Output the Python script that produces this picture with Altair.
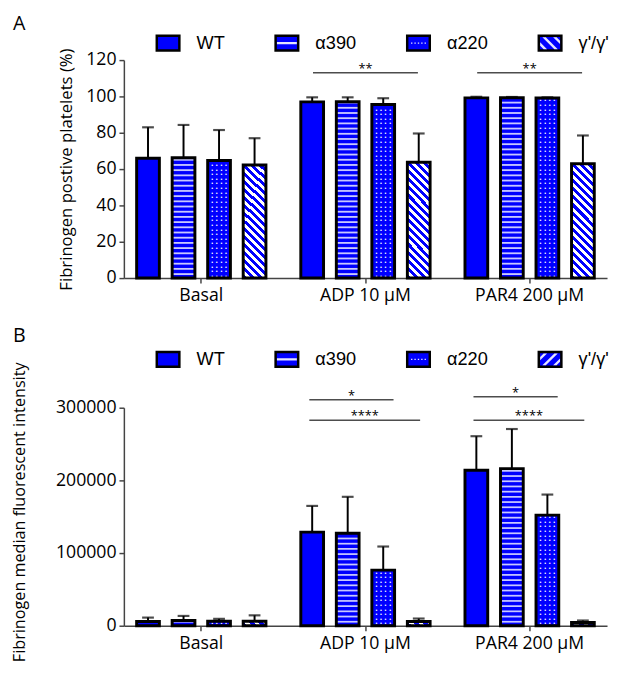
import altair as alt
import pandas as pd

# ---------------- data ----------------
groups = ["Basal", "ADP 10 μM", "PAR4 200 μM"]
series = ["WT", "α390", "α220", "γ'/γ'"]

# Panel A: fibrinogen positive platelets (%)  mean / SD
a_wt = [66.0, 97.0, 99.2]
a_wt_sd = [17.0, 2.5, 0.6]
a_a390 = [66.2, 97.1, 99.3]
a_a390_sd = [18.1, 2.4, 0.4]
a_a220 = [64.7, 95.5, 99.1]
a_a220_sd = [16.8, 3.5, 0.4]
a_gg = [62.3, 63.8, 62.9]
a_gg_sd = [14.7, 15.8, 15.6]

# Panel B: fibrinogen median fluorescent intensity  mean / SD
b_wt = [5800, 128800, 213900]
b_wt_sd = [5400, 36100, 46900]
b_a390 = [7200, 127400, 216200]
b_a390_sd = [6300, 50000, 54500]
b_a220 = [6300, 76500, 152200]
b_a220_sd = [3200, 32500, 28300]
b_gg = [6300, 5800, 4500]
b_gg_sd = [8000, 4100, 2700]

# significance annotations
a_sig_groups = ["ADP 10 μM", "PAR4 200 μM"]
a_sig_y = [113, 113]
a_sig_label = ["**", "**"]

b_sig1_groups = ["ADP 10 μM", "PAR4 200 μM"]
b_sig1_y = [311000, 315000]
b_sig1_label = ["*", "*"]
b_sig2_groups = ["ADP 10 μM", "PAR4 200 μM"]
b_sig2_y = [282800, 282800]
b_sig2_label = ["****", "****"]

a_ticks = [0, 20, 40, 60, 80, 100, 120]
b_ticks = [0, 100000, 200000, 300000]

# ---------------- style ----------------
BLUE = "#0000ff"
STRIPE = "#c8c8ff"
LEG_STRIPE = "#e4e4ff"
FONT = "Open Sans"
AX = "#444444"
pat_domain = [s + "\u200b" for s in series]


def make_df(cols):
    rows = []
    for s, p, (means, sds) in zip(series, pat_domain, cols):
        for g, m, sd in zip(groups, means, sds):
            rows.append({"group": g, "series": s, "pat": p, "mean": m, "top": m + sd})
    return pd.DataFrame(rows)


def gradient(x1, y1, x2, y2, stops):
    return {"gradient": "linear", "x1": round(x1, 5), "y1": round(y1, 5),
            "x2": round(x2, 5), "y2": round(y2, 5),
            "stops": [{"offset": round(o, 5), "color": c} for o, c in stops]}


def stripe_stops(n, base, band, duty):
    st = []
    for i in range(n):
        a = i / n
        b = (i + duty) / n
        c = (i + 1) / n
        st += [(a, base), (b, base), (b, band), (c, band)]
    return st


def diag(k, n, slash, duty=0.5):
    s = (1 + k) / (1 + k * k)
    if slash:
        return gradient(0, 0, s, k * s, stripe_stops(n, BLUE, "white", duty))
    return gradient(0, 1, s, 1 - k * s, stripe_stops(n, BLUE, "white", duty))


# ---- legend pattern glyphs (symbol shapes in unit coordinates) ----
IX, IY = 0.88, 0.53  # inner area of the legend swatch
FRAME = "M-1,-0.65L-1,-0.65ZM1,0.65L1,0.65Z"  # zero-area points: same bounds as the swatch


def rect_path(x0, y0, x1, y1):
    return f"M{x0:.3f},{y0:.3f}H{x1:.3f}V{y1:.3f}H{x0:.3f}Z"


def clip_half(poly, a, b, c):
    # keep a*x + b*y >= c
    out = []
    n = len(poly)
    for i in range(n):
        p, q = poly[i], poly[(i + 1) % n]
        fp = a * p[0] + b * p[1] - c
        fq = a * q[0] + b * q[1] - c
        if fp >= 0:
            out.append(p)
        if (fp >= 0) != (fq >= 0):
            t = fp / (fp - fq)
            out.append((p[0] + t * (q[0] - p[0]), p[1] + t * (q[1] - p[1])))
    return out


def diag_glyph(slash):
    sy = 1 if slash else -1  # "/" : x + y = c, "\" : x - y = c
    parts = [FRAME]
    for cc in (-0.95, 0.0, 0.95):
        poly = [(-IX, -IY), (IX, -IY), (IX, IY), (-IX, IY)]
        poly = clip_half(poly, 1, sy, cc - 0.15)
        poly = clip_half(poly, -1, -sy, -(cc + 0.15))
        if len(poly) >= 3:
            parts.append("M" + "L".join(f"{x:.3f},{y:.3f}" for x, y in poly) + "Z")
    return "".join(parts)


glyph_wt = FRAME
glyph_390 = FRAME + rect_path(-IX, -0.1, IX, 0.1)
glyph_220 = FRAME + "".join(rect_path(x - 0.06, -0.06, x + 0.06, 0.06) for x in (-0.6, -0.3, 0.0, 0.3, 0.6))


def panel(df, letter, ymax, yticks, ytitle, title_pad, title_size, title_y, legend_y, title_offset,
          k_bar, n_bar, slash_legend, stripe_step, stripe_h, dot_step, sigs):
    xscale = alt.Scale(domain=groups, paddingInner=0.1, paddingOuter=0.0215)
    xaxis = alt.Axis(title=None, labelAngle=0, labelFont=FONT, labelFontSize=18,
                     labelColor="black", labelPadding=4, tickSize=5, tickWidth=1.5,
                     tickColor=AX, domainColor=AX, domainWidth=1.5)

    def X(**kw):
        return alt.X("group:N", sort=groups, scale=xscale, axis=xaxis, **kw)

    xo = alt.XOffset("series:N", sort=series,
                     scale=alt.Scale(domain=series, paddingInner=0.36, paddingOuter=0.26))
    yscale = alt.Scale(domain=[0, ymax], nice=False)
    ax_kw = dict(values=yticks, format="d", grid=False, title=ytitle,
                 titleFont=FONT, titleFontSize=title_size, titleFontWeight="normal",
                 titleColor="black", titlePadding=title_pad,
                 labelFont=FONT, labelFontSize=18, labelColor="black", labelPadding=3,
                 tickSize=5, tickWidth=1.5, tickColor=AX, domainColor=AX, domainWidth=1.5)
    if title_y is not None:
        ax_kw["titleY"] = title_y
    yaxis = alt.Axis(**ax_kw)

    def Y(f):
        return alt.Y(f, scale=yscale, axis=yaxis)

    common_leg = dict(orient="none", legendX=32, legendY=legend_y, direction="horizontal",
                      title=None, symbolSize=529, symbolOpacity=1, symbolStrokeWidth=2.5,
                      labelFont="Liberation Sans", labelFontSize=18.5, labelOffset=16,
                      columnPadding=46, padding=0)
    legend = alt.Legend(symbolType="M-1,-0.65H1V0.65H-1Z", symbolStrokeColor="black",
                        labelColor="black", zindex=1, **common_leg)
    legend_pat = alt.Legend(symbolStrokeColor="transparent", symbolFillColor=LEG_STRIPE,
                            labelOpacity=0, zindex=3, **common_leg)
    glyphs = [glyph_wt, glyph_390, glyph_220, diag_glyph(slash_legend)]

    base = alt.Chart(df)
    layers = []
    layers.append(base.mark_bar(strokeWidth=0).encode(
        x=X(), xOffset=xo, y=Y("mean:Q"),
        color=alt.Color("series:N", sort=series,
                        scale=alt.Scale(domain=series, range=[BLUE] * 4), legend=legend)))
    # diagonal-striped bars
    layers.append(base.transform_filter(alt.datum.series == "γ'/γ'").mark_bar(
        strokeWidth=0, color=diag(k_bar, n_bar, False)).encode(x=X(), xOffset=xo, y=Y("mean:Q")))
    # horizontal stripes
    layers.append(
        base.transform_filter(alt.datum.series == "α390")
        .transform_calculate(s=f"sequence({stripe_step * 0.6}, datum.mean - {stripe_step * 0.2}, {stripe_step})")
        .transform_flatten(["s"])
        .transform_calculate(s2=f"datum.s + {stripe_h}")
        .mark_bar(color=STRIPE, strokeWidth=0)
        .encode(x=X(), xOffset=xo, y=Y("s:Q"), y2="s2:Q"))
    # dots
    for dx in [-7, -2.33, 2.33, 7]:
        layers.append(
            base.transform_filter(alt.datum.series == "α220")
            .transform_calculate(d=f"sequence({dot_step * 0.5}, datum.mean - {dot_step * 0.2}, {dot_step})")
            .transform_flatten(["d"])
            .mark_text(text="•", font="DejaVu Sans", fontSize=5, color="white",
                       baseline="middle", align="center", dx=dx)
            .encode(x=X(), xOffset=xo, y=Y("d:Q")))
    # error bars
    layers.append(base.mark_rule(color="black", strokeWidth=2).encode(
        x=X(), xOffset=xo, y=Y("mean:Q"), y2="top:Q"))
    layers.append(base.mark_tick(color="black", thickness=2.2, size=12, orient="horizontal").encode(
        x=X(), xOffset=xo, y=Y("top:Q")))
    # outlines
    layers.append(base.mark_bar(fillOpacity=0, stroke="black", strokeWidth=3).encode(
        x=X(), xOffset=xo, y=Y("mean:Q")))
    # invisible points that carry the legend pattern glyphs
    layers.append(base.mark_point(filled=True, opacity=0, color=LEG_STRIPE, size=4).encode(
        x=X(), xOffset=xo, y=Y("mean:Q"),
        shape=alt.Shape("pat:N", sort=pat_domain,
                        scale=alt.Scale(domain=pat_domain, range=glyphs), legend=legend_pat)))
    # significance
    for sg in sigs:
        sdf = pd.DataFrame({"group": sg["groups"], "y": sg["y"], "label": sg["label"]})
        sc = alt.Chart(sdf)
        b0, b1 = sg["b0"], sg["b1"]
        layers.append(sc.mark_rule(color="#4d4d4d", strokeWidth=1.6).encode(
            x=X(bandPosition=b0), x2=alt.X2("group", bandPosition=b1), y=Y("y:Q")))
        layers.append(sc.mark_text(font=FONT, fontSize=13, color="black", baseline="alphabetic", dy=0).encode(
            x=X(bandPosition=(b0 + b1) / 2), y=Y("y:Q"), text="label:N"))

    return alt.layer(*layers).properties(
        width=492, height=222,
        title=alt.TitleParams(letter, anchor="start", frame="group", dx=-113, offset=title_offset,
                              fontSize=20, font=FONT, fontWeight="normal", color="black"))


df_a = make_df([(a_wt, a_wt_sd), (a_a390, a_a390_sd), (a_a220, a_a220_sd), (a_gg, a_gg_sd)])
df_b = make_df([(b_wt, b_wt_sd), (b_a390, b_a390_sd), (b_a220, b_a220_sd), (b_gg, b_gg_sd)])

chart_a = panel(df_a, "A", 120, a_ticks, "Fibrinogen postive platelets (%)", 10, 17, None, -30.5, -4,
                116 / 23.1, 17, False, 2.86, 1.0, 2.54,
                [{"groups": a_sig_groups, "y": a_sig_y, "label": a_sig_label, "b0": 0.145, "b1": 0.855}])
chart_b = panel(df_b, "B", 300000, b_ticks, "Fibrinogen median fluorescent intensity", 28, 16.5, 106, -62.5, 0,
                5 / 23.1, 3, True, 7160, 2400, 6350,
                [{"groups": b_sig1_groups, "y": b_sig1_y, "label": b_sig1_label, "b0": 0.12, "b1": 0.69},
                 {"groups": b_sig2_groups, "y": b_sig2_y, "label": b_sig2_label, "b0": 0.12, "b1": 0.87}])

chart = alt.vconcat(
    chart_a, chart_b, spacing=22,
    padding={"left": 4, "top": 0, "right": 0, "bottom": 0},
).resolve_scale(
    color="independent", shape="independent", x="independent", y="independent", xOffset="independent"
).resolve_legend(color="independent", shape="independent").configure_view(strokeWidth=0)

chart.save("out.html", embed_options={"renderer": "svg", "actions": False})
